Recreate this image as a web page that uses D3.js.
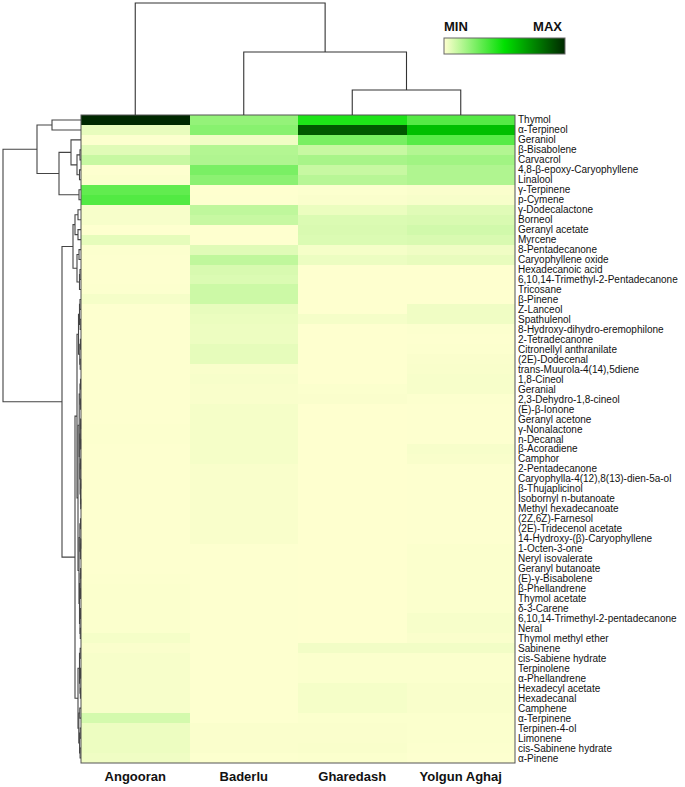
<!DOCTYPE html>
<html><head><meta charset="utf-8">
<script src="https://cdn.jsdelivr.net/npm/d3@7"></script>
<style>html,body{margin:0;padding:0;background:#fff;}svg{display:block;}</style>
</head><body>
<svg id="chart" width="685" height="787"></svg>
<script>
const columns = ["Angooran", "Baderlu", "Gharedash", "Yolgun Aghaj"];
const compounds = ["Thymol","α-Terpineol","Geraniol","β-Bisabolene","Carvacrol","4,8-β-epoxy-Caryophyllene","Linalool","γ-Terpinene","p-Cymene","γ-Dodecalactone","Borneol","Geranyl acetate","Myrcene","8-Pentadecanone","Caryophyllene oxide","Hexadecanoic acid","6,10,14-Trimethyl-2-Pentadecanone","Tricosane","β-Pinene","Z-Lanceol","Spathulenol","8-Hydroxy-dihydro-eremophilone","2-Tetradecanone","Citronellyl anthranilate","(2E)-Dodecenal","trans-Muurola-4(14),5diene","1,8-Cineol","Geranial","2,3-Dehydro-1,8-cineol","(E)-β-Ionone","Geranyl acetone","γ-Nonalactone","n-Decanal","β-Acoradiene","Camphor","2-Pentadecanone","Caryophylla-4(12),8(13)-dien-5a-ol","β-Thujaplicinol","Isobornyl n-butanoate","Methyl hexadecanoate","(2Z,6Z)-Farnesol","(2E)-Tridecenol acetate","14-Hydroxy-(β)-Caryophyllene","1-Octen-3-one","Neryl isovalerate","Geranyl butanoate","(E)-γ-Bisabolene","β-Phellandrene","Thymol acetate","δ-3-Carene","6,10,14-Trimethyl-2-pentadecanone","Neral","Thymol methyl ether","Sabinene","cis-Sabiene hydrate","Terpinolene","α-Phellandrene","Hexadecyl acetate","Hexadecanal","Camphene","α-Terpinene","Terpinen-4-ol","Limonene","cis-Sabinene hydrate","α-Pinene"];

// relative abundance (normalised, MIN..MAX = 0..1)
const angooran = [1.0,.045,.005,.06,.11,.003,.008,.31,.34,.015,.015,.002,.05,.005,.003,.003,.003,.005,.02,.003,.003,.003,.003,.003,.003,.003,.003,.003,.003,.003,.003,.005,.005,.003,.003,.003,.003,.003,.003,.003,.003,.003,.003,.003,.003,.003,.005,.008,.008,.008,.008,.008,.02,.01,.015,.015,.015,.015,.015,.015,.085,.035,.035,.035,.03];
const baderlu = [.21,.233,.03,.15,.155,.26,.225,.002,.003,.125,.11,.002,.002,.06,.124,.076,.07,.1,.1,.045,.04,.035,.035,.05,.05,.012,.015,.012,.012,.02,.02,.02,.02,.02,.02,.012,.012,.012,.012,.012,.012,.012,.012,.003,.003,.003,.003,.003,.003,.003,.003,.003,.003,.003,.003,.003,.003,.003,.003,.003,.003,.01,.01,.01,.005];
const gharedash = [.443,.87,.265,.11,.17,.11,.14,.005,.01,.04,.07,.075,.07,.02,.037,.002,.002,.002,.002,.002,.02,.002,.002,.002,.002,.002,.002,.008,.01,.002,.002,.002,.002,.002,.002,.002,.002,.002,.002,.002,.002,.002,.002,.002,.002,.002,.002,.002,.002,.002,.002,.002,.002,.025,.008,.008,.008,.02,.02,.02,.008,.01,.01,.012,.008];
const yolgun = [.333,.59,.33,.15,.185,.155,.155,.01,.015,.06,.075,.09,.075,.03,.045,.002,.002,.002,.002,.03,.03,.005,.003,.005,.01,.012,.015,.015,.005,.003,.003,.003,.003,.015,.012,.003,.003,.003,.003,.003,.003,.003,.003,.008,.008,.008,.008,.008,.008,.008,.015,.015,.01,.025,.008,.008,.008,.012,.012,.012,.008,.008,.008,.005,.003];
const series = [angooran, baderlu, gharedash, yolgun];

// dendrograms: [height, left, right]; leaves are row/column indices
const rowTree = [78,
  [44, [29, 0, 1], [22, [10, 2, [4, [1, 3, 4], [1.5, 5, 6]]], [2, 7, 8]]],
  [19,
    [8, [6, [3, 9, 10], [3, 11, 12]], [4, [2, 13, 14], [1.5, [1, 15, 16], 17]]],
    [6,
      [4,
        [2.5, [1.5, [1, 18, 19], [0.8, 20, 21]], [1.2, [0.6, 22, 23], [0.8, 24, 25]]],
        [3,
          [1.8, [1, [0.5, 26, 27], [0.6, 28, 29]], [1.2, [0.7, [0.4, 30, 31], [0.4, 32, 33]], [0.9, [0.5, 34, 35], [0.5, [0.3, 36, 37], [0.3, 38, 39]]]]],
          [2, [1.1, [0.5, 40, 41], [0.6, [0.3, 42, 43], 44]], [1.5, [0.8, [0.4, 45, 46], [0.5, 47, 48]], [1, [0.6, 49, 50], [0.7, 51, 52]]]]
        ]
      ],
      [3, [1.5, [0.8, 53, 54], [1, [0.5, 55, 56], [0.6, 57, 58]]], [2.2, [1.2, 59, 60], [1.4, [0.8, 61, 62], [0.9, 63, 64]]]]
    ]
  ]
];
const colTree = [112, 0, [63, 1, [25, 2, 3]]];

(function () {
const svg = d3.select("#chart");
svg.append("rect").attr("width", 685).attr("height", 787).attr("fill", "#fff");

const L = 81, R = 515, T = 115, B = 763;
const x = d3.scaleBand().domain(d3.range(columns.length)).range([L, R]);
const y = d3.scaleBand().domain(d3.range(compounds.length)).range([T, B]);
const color = d3.scaleLinear().domain([0, 0.5, 1]).range(["#ffffd0", "#00e000", "#002800"]).interpolate(d3.interpolateRgb).clamp(true);

const cells = [];
series.forEach((s, c) => s.forEach((v, r) => cells.push({c, r, v})));
svg.append("g").selectAll("rect").data(cells).join("rect")
  .attr("x", d => x(d.c)).attr("y", d => y(d.r))
  .attr("width", x.bandwidth() + 0.3).attr("height", y.bandwidth() + 0.3)
  .attr("fill", d => color(d.v)).attr("shape-rendering", "crispEdges");

svg.append("rect").attr("x", L).attr("y", T).attr("width", R - L).attr("height", B - T)
  .attr("fill", "none").attr("stroke", "#555").attr("stroke-width", 1);

svg.append("g").selectAll("text").data(compounds).join("text")
  .attr("x", R + 3).attr("y", (d, i) => y(i) + y.bandwidth() / 2)
  .attr("dy", "0.35em").attr("font-family", "Liberation Sans, Arial, sans-serif")
  .attr("font-size", 10).attr("fill", "#111").text(d => d);

svg.append("g").selectAll("text").data(columns).join("text")
  .attr("x", (d, i) => x(i) + x.bandwidth() / 2).attr("y", 781)
  .attr("text-anchor", "middle").attr("font-family", "Liberation Sans, Arial, sans-serif")
  .attr("font-weight", "bold").attr("font-size", 13).attr("fill", "#111").text(d => d);

const rowH = d3.scaleLinear().domain([0, 78]).range([L, 3]);
const gRow = svg.append("g").attr("stroke", "#444").attr("stroke-width", 1.1).attr("fill", "none");
function drawRow(node) {
  if (typeof node === "number") return {pos: y(node) + y.bandwidth() / 2, h: 0};
  const [h, a, b] = node;
  const A = drawRow(a), Bn = drawRow(b);
  const xx = rowH(h);
  gRow.append("path").attr("d", `M${rowH(A.h)},${A.pos}H${xx}V${Bn.pos}H${rowH(Bn.h)}`);
  return {pos: (A.pos + Bn.pos) / 2, h};
}
drawRow(rowTree);

const colH = d3.scaleLinear().domain([0, 112]).range([T, 3]);
const gCol = svg.append("g").attr("stroke", "#333").attr("stroke-width", 1.1).attr("fill", "none");
function drawCol(node) {
  if (typeof node === "number") return {pos: x(node) + x.bandwidth() / 2, h: 0};
  const [h, a, b] = node;
  const A = drawCol(a), Bn = drawCol(b);
  const yy = colH(h);
  gCol.append("path").attr("d", `M${A.pos},${colH(A.h)}V${yy}H${Bn.pos}V${colH(Bn.h)}`);
  return {pos: (A.pos + Bn.pos) / 2, h};
}
drawCol(colTree);

const defs = svg.append("defs");
const grad = defs.append("linearGradient").attr("id", "lg");
d3.range(0, 1.0001, 0.1).forEach(t => grad.append("stop").attr("offset", t).attr("stop-color", color(t)));
svg.append("rect").attr("x", 444).attr("y", 38).attr("width", 121).attr("height", 16)
  .attr("fill", "url(#lg)").attr("stroke", "#666").attr("stroke-width", 1);
svg.append("text").attr("x", 444).attr("y", 30.5).attr("font-family", "Liberation Sans, Arial, sans-serif")
  .attr("font-weight", "bold").attr("font-size", 13).attr("fill", "#111").text("MIN");
svg.append("text").attr("x", 562).attr("y", 30.5).attr("text-anchor", "end").attr("font-family", "Liberation Sans, Arial, sans-serif")
  .attr("font-weight", "bold").attr("font-size", 13).attr("fill", "#111").text("MAX");
})();
</script>
</body></html>
